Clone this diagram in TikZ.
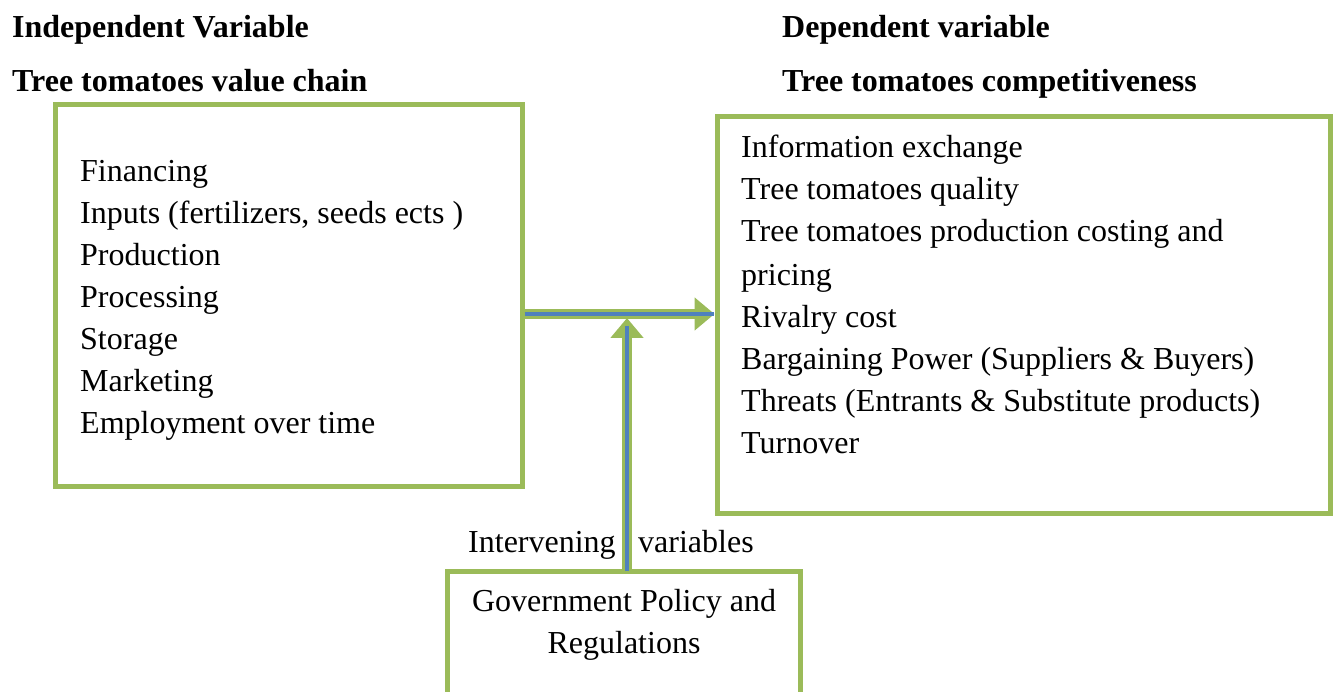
\documentclass[tikz,border=0pt]{standalone}
\usepackage{fontspec}
\setmainfont{LiberationSerif}[Extension=.ttf,UprightFont=*-Regular,BoldFont=*-Bold,ItalicFont=*-Italic,BoldItalicFont=*-BoldItalic]
\usetikzlibrary{arrows.meta}
\definecolor{boxgreen}{HTML}{9BBB59}
\definecolor{linkblue}{HTML}{4F81BD}
\begin{document}
\begin{tikzpicture}[x=1pt,y=-1pt,
  frame/.style={draw=boxgreen,line width=5pt,rectangle,inner sep=0pt},
  txt/.style={anchor=base west,inner sep=0pt,font=\rmfamily\fontsize{32}{42}\selectfont},
  hdr/.style={anchor=base west,inner sep=0pt,font=\rmfamily\bfseries\fontsize{32}{42}\selectfont},
  ctxt/.style={anchor=base,inner sep=0pt,font=\rmfamily\fontsize{32}{42}\selectfont},
  outerarrow/.style={draw=boxgreen,line width=10pt,-{Triangle[length=20pt,width=32pt]}},
  innerline/.style={draw=linkblue,line width=4pt}]
\useasboundingbox (0,0) rectangle (1334,692);
\fill[white] (0,0) rectangle (1334,692);

% headers
\node[hdr] (h1) at (12,38) {Independent Variable};
\node[hdr] (h2) at (12,92) {Tree tomatoes value chain};
\node[hdr] (h3) at (782,38) {Dependent variable};
\node[hdr] (h4) at (782,92) {Tree tomatoes competitiveness};

% boxes
\node[frame,minimum width=467pt,minimum height=382pt] (L) at (288.5,296) {};
\node[frame,minimum width=613pt,minimum height=396pt] (R) at (1023.5,315) {};
\coordinate (Gnw) at (447,571);
\coordinate (Gne) at (800,571);
\coordinate (Gsw) at (447,700);
\coordinate (Gse) at (800,700);
\draw[boxgreen,line width=5pt,line join=miter] (Gsw) -- (Gnw) -- (Gne) -- (Gse);

% left list
\foreach \t [count=\i] in {Financing,{Inputs (fertilizers, seeds ects )},Production,Processing,Storage,Marketing,Employment over time}
  \node[txt] (l\i) at (80,{140+42*\i}) {\t};

% right list
\node[txt] (r1) at (741,158) {Information exchange};
\node[txt] (r2) at (741,200) {Tree tomatoes quality};
\node[txt] (r3) at (741,242) {Tree tomatoes production costing and};
\node[txt] (r4) at (741,286) {pricing};
\node[txt] (r5) at (741,328) {Rivalry cost};
\node[txt] (r6) at (741,370) {Bargaining Power (Suppliers \& Buyers)};
\node[txt] (r7) at (741,412) {Threats (Entrants \& Substitute products)};
\node[txt] (r8) at (741,454) {Turnover};

% bottom box text
\node[ctxt] (g1) at (624,611) {Government Policy and};
\node[ctxt] (g2) at (624,653) {Regulations};

% intervening label
\node[txt] (iv1) at (468,552) {Intervening};
\node[txt] (iv2) at (638,552) {variables};

% arrows
\coordinate (hs) at (L.east |- 0,314);
\coordinate (he) at (R.west |- 0,314);
\coordinate (hb) at (714,314);
\coordinate (vs) at (627,571);
\coordinate (ve) at (627,318);
\coordinate (vb) at (627,326);
\draw[outerarrow] (hs) -- (he);
\draw[innerline] (hs) -- (hb);
\draw[outerarrow] (vs) -- (ve);
\draw[innerline] (vs) -- (vb);
\end{tikzpicture}
\end{document}
